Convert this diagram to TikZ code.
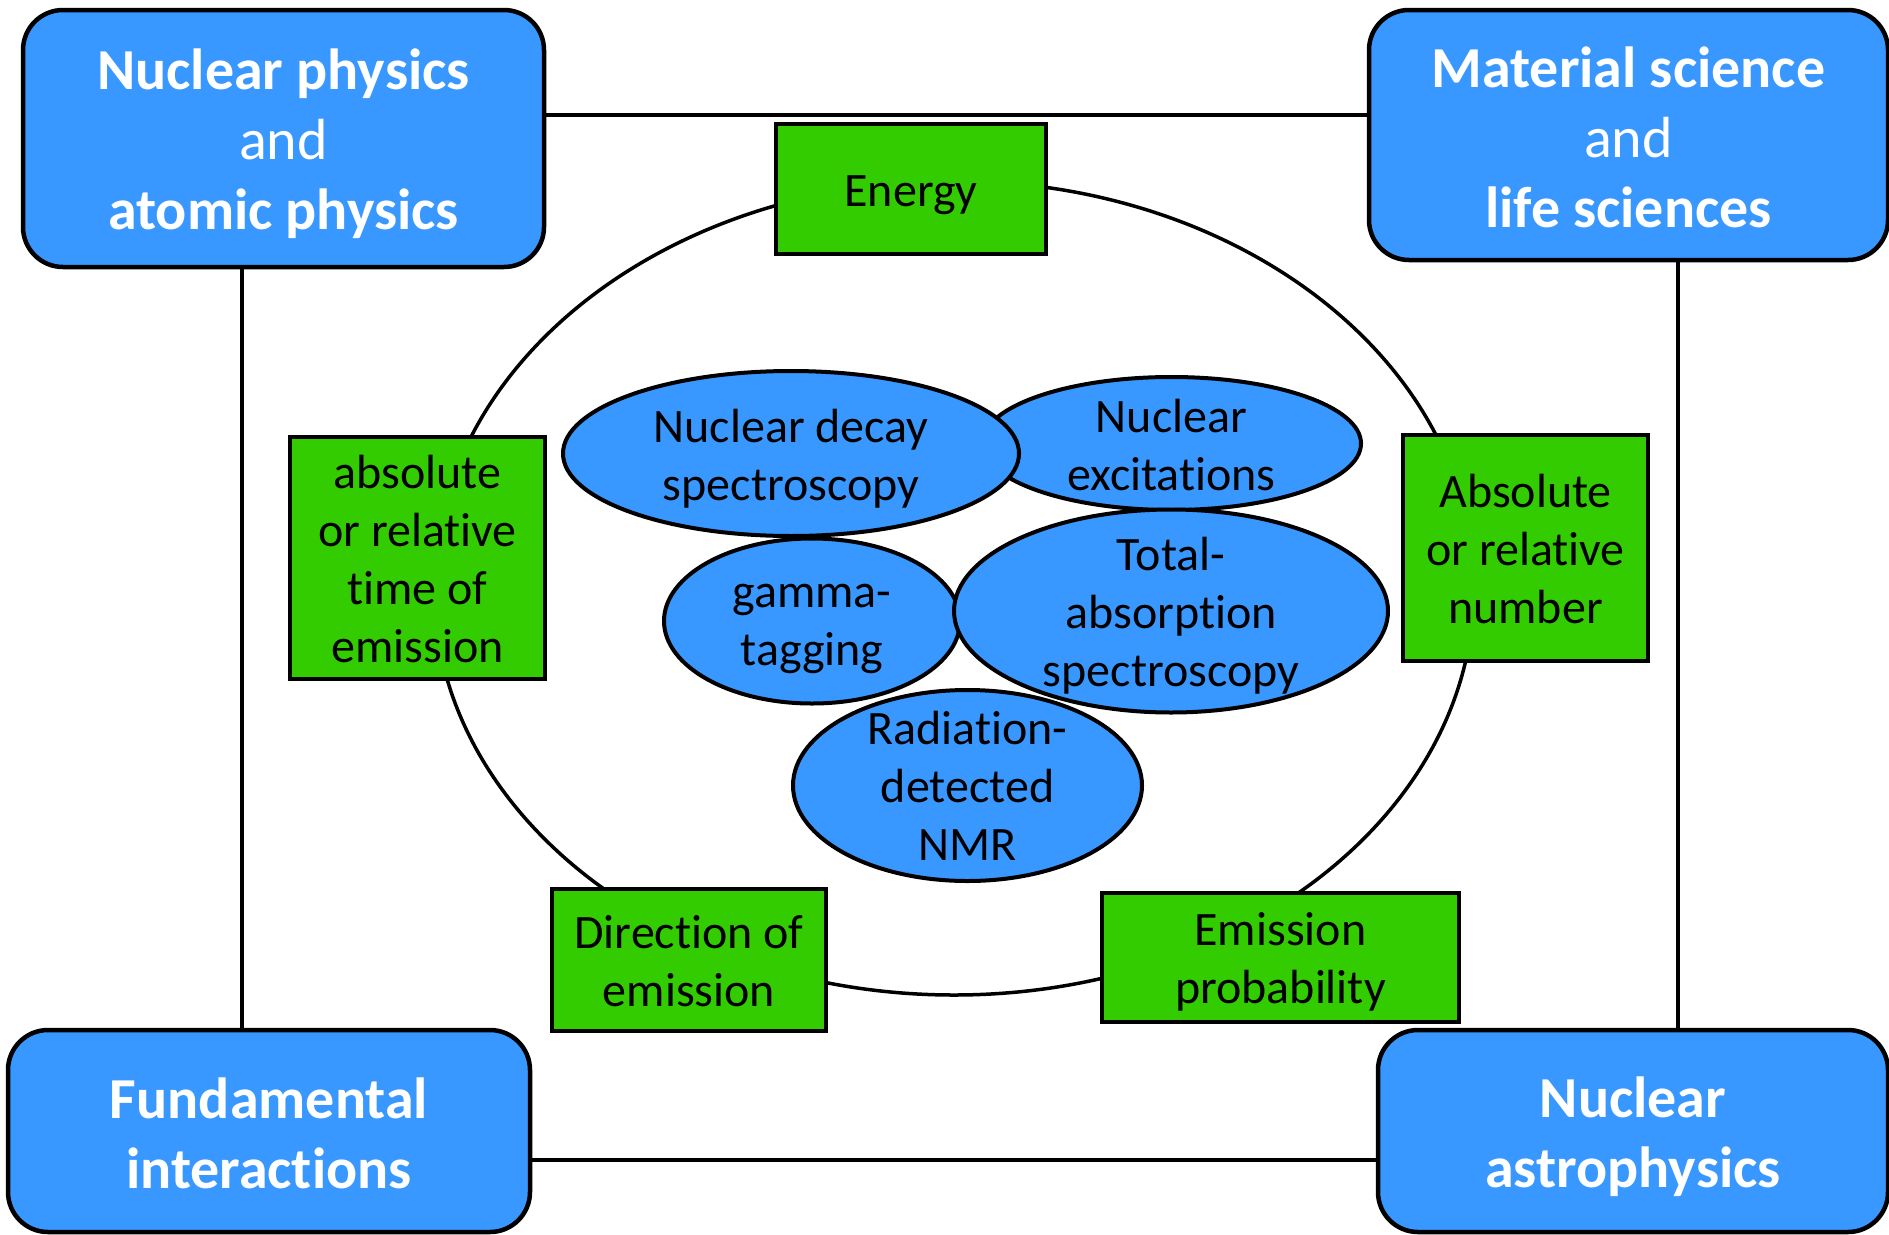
\documentclass[tikz,border=0pt]{standalone}
\usepackage{fontspec}
\setmainfont{Carlito}[Ligatures=NoCommon]
\usetikzlibrary{shapes.geometric}
\definecolor{boxblue}{RGB}{56,152,255}
\definecolor{boxgreen}{RGB}{51,204,0}
\begin{document}
\begin{tikzpicture}[x=1pt,y=-1pt,
  field/.style={draw=black, line width=4.5pt, fill=boxblue, rounded corners=40pt, inner sep=0pt},
  fieldtext/.style={text=white, align=center, font=\fontsize{58}{70}\selectfont, inner sep=0pt},
  prop/.style={draw=black, line width=4pt, fill=boxgreen, inner sep=0pt},
  tech/.style={ellipse, draw=black, line width=4pt, fill=boxblue, inner sep=0pt},
  smalltext/.style={align=center, font=\fontsize{48}{58}\selectfont, inner sep=0pt},
  ringstyle/.style={ellipse, draw=black, line width=3.5pt, inner sep=0pt},
  link/.style={line width=4pt}]
\useasboundingbox (0,0) rectangle (1889,1234);

% outer ring
\node[ringstyle, minimum width=1040pt, minimum height=814pt] (ring) at (954,588) {};

% field boxes
\node[field, minimum width=521pt, minimum height=257pt] (NP) at (283.5,138.5) {};
\node[fieldtext] (NPt) at ([yshift=-5pt]NP.center)
  {\textbf{Nuclear physics}\\and\\\textbf{atomic physics}};
\node[field, minimum width=519pt, minimum height=250pt] (MS) at (1628.5,135) {};
\node[fieldtext] (MSt) at ([yshift=-2pt]MS.center)
  {\textbf{Material science}\\and\\\textbf{life sciences}};
\node[field, minimum width=522pt, minimum height=202pt] (FI) at (269,1131) {};
\node[fieldtext] (FIt) at ([yshift=-2pt]FI.center)
  {\textbf{Fundamental}\\\textbf{interactions}};
\node[field, minimum width=510pt, minimum height=202pt] (NA) at (1633,1131) {};
\node[fieldtext] (NAt) at ([yshift=-6pt]NA.center)
  {\textbf{Nuclear}\\\textbf{astrophysics}};

% connectors between fields
\coordinate (ytop) at (0,115);
\coordinate (ybot) at (0,1160);
\coordinate (xleft) at (242,0);
\coordinate (xright) at (1678,0);
\draw[link] (NP.east |- ytop) -- (MS.west |- ytop);
\draw[link] (NP.south -| xleft) -- (FI.north -| xleft);
\draw[link] (MS.south -| xright) -- (NA.north -| xright);
\draw[link] (FI.east |- ybot) -- (NA.west |- ybot);

% properties
\node[prop, minimum width=270pt, minimum height=130pt] (energy) at (911,189) {};
\node[smalltext] (energyt) at ([yshift=-6pt]energy.center) {Energy};
\node[prop, minimum width=255pt, minimum height=242pt] (time) at (417.5,558) {};
\node[smalltext] (timet) at ([yshift=-1pt]time.center)
  {absolute\\or relative\\time of\\emission};
\node[prop, minimum width=245pt, minimum height=226pt] (number) at (1525.5,548) {};
\node[smalltext] (numbert) at ([yshift=-1pt]number.center)
  {Absolute\\or relative\\number};
\node[prop, minimum width=274pt, minimum height=142pt] (direction) at (689,960) {};
\node[smalltext] (directiont) at ([yshift=-1pt]direction.center)
  {Direction of\\emission};
\node[prop, minimum width=357pt, minimum height=129pt] (prob) at (1280.5,957.5) {};
\node[smalltext] (probt) at ([yshift=-4pt]prob.center)
  {Emission\\probability};

% techniques
\node[tech, minimum width=379pt, minimum height=133pt] (exc) at (1171.5,443.5) {};
\node[smalltext] (exct) at ([yshift=-2pt]exc.center) {Nuclear\\excitations};
\node[tech, minimum width=456pt, minimum height=165pt] (decay) at (791,453.5) {};
\node[smalltext] (decayt) at ([yshift=-5pt]decay.center) {Nuclear decay\\spectroscopy};
\node[tech, minimum width=296pt, minimum height=165pt] (gamma) at (812,621) {};
\node[smalltext] (gammat) at ([yshift=-8pt]gamma.center) {gamma-\\tagging};
\node[tech, minimum width=434pt, minimum height=203pt] (tas) at (1171,611) {};
\node[smalltext] (tast) at ([yshift=-5pt]tas.center) {Total-\\absorption\\spectroscopy};
\node[tech, minimum width=349pt, minimum height=191pt] (nmr) at (967.5,785.5) {};
\node[smalltext] (nmrt) at (nmr.center) {Radiation-\\detected\\NMR};
\end{tikzpicture}
\end{document}
